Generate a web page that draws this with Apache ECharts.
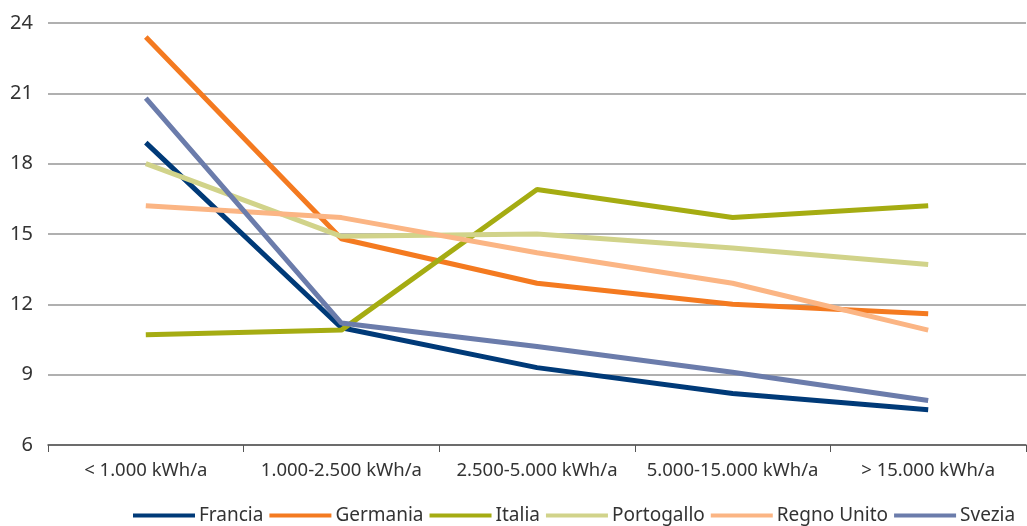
<!DOCTYPE html>
<html>
<head>
<meta charset="utf-8">
<script src="https://cdn.jsdelivr.net/npm/echarts@6/dist/echarts.min.js"></script>
<style>
  html, body { margin: 0; padding: 0; background: #fff; }
  #chart { width: 1027px; height: 526px; }
</style>
</head>
<body>
<div id="chart"></div>
<script>
// Consumption bands (kWh per year)
const categories = ['< 1.000 kWh/a', '1.000-2.500 kWh/a', '2.500-5.000 kWh/a', '5.000-15.000 kWh/a', '> 15.000 kWh/a'];

// Values per country across the bands
const francia     = [18.9, 11.0, 9.3, 8.2, 7.5];
const germania    = [23.4, 14.8, 12.9, 12.0, 11.6];
const italia      = [10.7, 10.9, 16.9, 15.7, 16.2];
const portogallo  = [18.0, 14.9, 15.0, 14.4, 13.7];
const regnoUnito  = [16.2, 15.7, 14.2, 12.9, 10.9];
const svezia      = [20.8, 11.2, 10.2, 9.1, 7.9];

const yTicks = { min: 6, max: 24, interval: 3 };

const seriesDefs = [
  { name: 'Francia',     data: francia,    color: '#003a78' },
  { name: 'Germania',    data: germania,   color: '#f47a20' },
  { name: 'Italia',      data: italia,     color: '#a5ac12' },
  { name: 'Portogallo',  data: portogallo, color: '#d1d38a' },
  { name: 'Regno Unito', data: regnoUnito, color: '#fbb584' },
  { name: 'Svezia',      data: svezia,     color: '#6b7cab' }
];

const font = 'Noto Sans';
const chart = echarts.init(document.getElementById('chart'), null, { renderer: 'canvas' });

chart.setOption({
  animation: false,
  backgroundColor: '#fff',
  grid: { left: 48, right: 1, top: 23, bottom: 81, containLabel: false },
  legend: {
    top: 501,
    left: 128,
    itemWidth: 62,
    itemHeight: 4,
    itemGap: 6,
    icon: 'rect',
    textStyle: { fontFamily: font, fontSize: 19, color: '#333', padding: [0, 0, 0, -1] },
    data: seriesDefs.map(s => s.name)
  },
  xAxis: {
    type: 'category',
    data: categories,
    boundaryGap: true,
    axisLine: { lineStyle: { color: '#555', width: 1.5 } },
    axisTick: { show: true, length: 7, lineStyle: { color: '#555', width: 1 } },
    axisLabel: { fontFamily: font, fontSize: 18.5, color: '#333', margin: 16, interval: 0 },
    splitLine: { show: false }
  },
  yAxis: {
    type: 'value',
    min: yTicks.min,
    max: yTicks.max,
    interval: yTicks.interval,
    axisLine: { show: false },
    axisTick: { show: false },
    axisLabel: { fontFamily: font, fontSize: 20, color: '#333', margin: 15 },
    splitLine: { lineStyle: { color: '#b0b0b0', width: 2 } }
  },
  series: seriesDefs.map(s => ({
    name: s.name,
    type: 'line',
    data: s.data,
    symbol: 'none',
    color: s.color,
    lineStyle: { color: s.color, width: 5 }
  }))
});
</script>
</body>
</html>
